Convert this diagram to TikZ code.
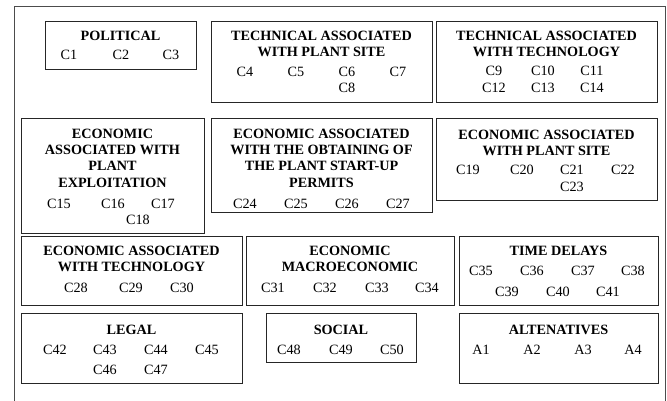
\documentclass[tikz,border=0pt]{standalone}
\usepackage{fontspec}
\setmainfont{Liberation Serif}
\begin{document}
\begin{tikzpicture}[x=1pt,y=-1pt,
  box/.style={draw=black!85,line width=0.9pt,anchor=north west,inner sep=0pt},
  ttl/.style={anchor=north,inner sep=0pt,align=center,font=\fontsize{14.2}{16.4}\selectfont\bfseries},
  lbl/.style={anchor=base,inner sep=0pt,font=\fontsize{14.2}{16.4}\selectfont}]
\useasboundingbox (0,0) rectangle (667,401);
\draw[black!70,line width=0.8pt] (14,401) -- (14,6) -- (665,6) -- (665,401);
% boxes
\node[box,minimum width=151pt,minimum height=48pt] (pol) at (45,21) {};
\node[box,minimum width=221pt,minimum height=81pt] (tps) at (211,21) {};
\node[box,minimum width=221pt,minimum height=81pt] (tt) at (436,21) {};
\node[box,minimum width=183pt,minimum height=115pt] (epe) at (21,118) {};
\node[box,minimum width=221pt,minimum height=94pt] (eop) at (211,118) {};
\node[box,minimum width=221pt,minimum height=82pt] (eps) at (436,118) {};
\node[box,minimum width=221pt,minimum height=69pt] (et) at (21,236) {};
\node[box,minimum width=208pt,minimum height=69pt] (em) at (246,236) {};
\node[box,minimum width=199pt,minimum height=69pt] (td) at (459,236) {};
\node[box,minimum width=221pt,minimum height=70pt] (leg) at (21,313) {};
\node[box,minimum width=150pt,minimum height=49pt] (soc) at (266,313) {};
\node[box,minimum width=199pt,minimum height=70pt] (alt) at (459,313) {};
% titles
\node[ttl] (tpol) at (120.5,30.5) {POLITICAL};
\node[ttl] (ttps) at (321.5,30.5) {TECHNICAL ASSOCIATED\\WITH PLANT SITE};
\node[ttl] (ttt) at (546.5,30.5) {TECHNICAL ASSOCIATED\\WITH TECHNOLOGY};
\node[ttl] (tepe) at (112.5,128.5) {ECONOMIC\\ASSOCIATED WITH\\PLANT\\EXPLOITATION};
\node[ttl] (teop) at (321.5,128.5) {ECONOMIC ASSOCIATED\\WITH THE OBTAINING OF\\THE PLANT START-UP\\PERMITS};
\node[ttl] (teps) at (546.5,129.5) {ECONOMIC ASSOCIATED\\WITH PLANT SITE};
\node[ttl] (tet) at (131.5,245.5) {ECONOMIC ASSOCIATED\\WITH TECHNOLOGY};
\node[ttl] (tem) at (350,245.5) {ECONOMIC\\MACROECONOMIC};
\node[ttl] (ttd) at (558.5,245.5) {TIME DELAYS};
\node[ttl] (tleg) at (131.5,324.5) {LEGAL};
\node[ttl] (tsoc) at (341,324.5) {SOCIAL};
\node[ttl] (talt) at (558.5,324.5) {ALTENATIVES};
% labels
\node[lbl] (c1) at (69,60) {C1};
\node[lbl] (c2) at (121,60) {C2};
\node[lbl] (c3) at (171,60) {C3};
\node[lbl] (c4) at (245,77) {C4};
\node[lbl] (c5) at (296,77) {C5};
\node[lbl] (c6) at (347,77) {C6};
\node[lbl] (c7) at (398,77) {C7};
\node[lbl] (c8) at (347,93) {C8};
\node[lbl] (c9) at (494,76) {C9};
\node[lbl] (c10) at (543,76) {C10};
\node[lbl] (c11) at (592,76) {C11};
\node[lbl] (c12) at (494,93) {C12};
\node[lbl] (c13) at (543,93) {C13};
\node[lbl] (c14) at (592,93) {C14};
\node[lbl] (c15) at (59,208) {C15};
\node[lbl] (c16) at (113,208) {C16};
\node[lbl] (c17) at (163,208) {C17};
\node[lbl] (c18) at (138,224) {C18};
\node[lbl] (c19) at (468,175) {C19};
\node[lbl] (c20) at (522,175) {C20};
\node[lbl] (c21) at (572,175) {C21};
\node[lbl] (c22) at (623,175) {C22};
\node[lbl] (c23) at (572,191) {C23};
\node[lbl] (c24) at (245,208) {C24};
\node[lbl] (c25) at (296,208) {C25};
\node[lbl] (c26) at (347,208) {C26};
\node[lbl] (c27) at (398,208) {C27};
\node[lbl] (c28) at (76,292) {C28};
\node[lbl] (c29) at (131,292) {C29};
\node[lbl] (c30) at (182,292) {C30};
\node[lbl] (c31) at (273,292) {C31};
\node[lbl] (c32) at (325,292) {C32};
\node[lbl] (c33) at (377,292) {C33};
\node[lbl] (c34) at (427,292) {C34};
\node[lbl] (c35) at (481,275) {C35};
\node[lbl] (c36) at (532,275) {C36};
\node[lbl] (c37) at (583,275) {C37};
\node[lbl] (c38) at (633,275) {C38};
\node[lbl] (c39) at (507,296) {C39};
\node[lbl] (c40) at (558,296) {C40};
\node[lbl] (c41) at (608,296) {C41};
\node[lbl] (c42) at (55,354) {C42};
\node[lbl] (c43) at (105,354) {C43};
\node[lbl] (c44) at (156,354) {C44};
\node[lbl] (c45) at (207,354) {C45};
\node[lbl] (c46) at (105,374) {C46};
\node[lbl] (c47) at (156,374) {C47};
\node[lbl] (c48) at (289,354) {C48};
\node[lbl] (c49) at (341,354) {C49};
\node[lbl] (c50) at (392,354) {C50};
\node[lbl] (a1) at (481,354) {A1};
\node[lbl] (a2) at (532,354) {A2};
\node[lbl] (a3) at (583,354) {A3};
\node[lbl] (a4) at (633,354) {A4};
\end{tikzpicture}
\end{document}
